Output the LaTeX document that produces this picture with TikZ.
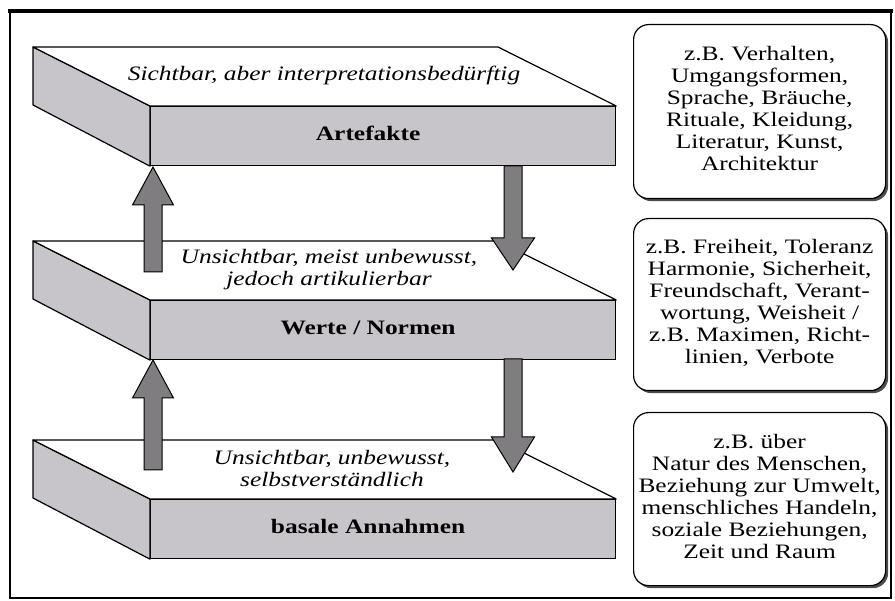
\documentclass[tikz,border=0pt]{standalone}
\usepackage{fontspec}
\setmainfont{Liberation Serif}
\usetikzlibrary{shadows}
\definecolor{slabgray}{RGB}{200,197,202}
\definecolor{arrowgray}{RGB}{128,125,128}
\newcommand{\stretched}[1]{\scalebox{1.24}[1]{\begin{tabular}{@{}c@{}}#1\end{tabular}}}

\begin{document}
\begin{tikzpicture}[x=1pt, y=-1pt,
            front/.style={draw, fill=slabgray, line width=1.2pt, minimum width=465pt, minimum height=59pt, inner sep=0pt, anchor=north west},
            topface/.style={draw, fill=white, line width=1.2pt, line join=round},
            sideface/.style={draw, fill=slabgray, line width=1.2pt, line join=round},
            layertext/.style={font=\fontsize{20.5}{22}\selectfont\itshape, inner sep=0pt},
            layername/.style={font=\fontsize{20.5}{22}\selectfont\bfseries, inner sep=0pt},
            examplebox/.style={draw, line width=1.2pt, rounded corners=15pt, fill=white, minimum width=252pt, inner sep=2pt, anchor=north west, font=\fontsize{20.5}{22}\selectfont, drop shadow={shadow xshift=2.5pt, shadow yshift=-2.5pt, fill=black!70, opacity=1}},
            blockarrow/.style={draw, fill=arrowgray, line width=1pt}
        ]
        \useasboundingbox (0,0) rectangle (895,601);

        % Frame
        \draw[line width=1.5pt] (10,11) rectangle (891,598);
        \draw[line width=4.5pt] (8,11) -- (893,11);

        % Layer 1
        \node[front] (artefakte) at (150,106) {};
        \draw[sideface] (artefakte.north west) -- ++(-117,-59) -- ++(0,58) -- (artefakte.south west) -- cycle;
        \draw[topface] (artefakte.north west) -- ++(-117,-59) -- ++(465,0) -- (artefakte.north east) -- cycle;
        \node[layername, xshift=-15pt] at (artefakte) {\stretched{Artefakte}};
        \node[layertext] (sichtbar) at (324,76) {\stretched{Sichtbar, aber interpretationsbedürftig}};

        % Layer 2
        \node[front] (werte) at (150,300) {};
        \draw[sideface] (werte.north west) -- ++(-117,-59) -- ++(0,58) -- (werte.south west) -- cycle;
        \draw[topface] (werte.north west) -- ++(-117,-59) -- ++(465,0) -- (werte.north east) -- cycle;
        \node[layername, xshift=-15pt] at (werte) {\stretched{Werte / Normen}};
        \node[layertext] (unsichtbar1) at (329,270) {\stretched{Unsichtbar, meist unbewusst,\\jedoch artikulierbar}};

        % Layer 3
        \node[front] (annahmen) at (150,499) {};
        \draw[sideface] (annahmen.north west) -- ++(-117,-59) -- ++(0,58) -- (annahmen.south west) -- cycle;
        \draw[topface] (annahmen.north west) -- ++(-117,-59) -- ++(465,0) -- (annahmen.north east) -- cycle;
        \node[layername, xshift=-15pt] at (annahmen) {\stretched{basale Annahmen}};
        \node[layertext] (unsichtbar2) at (332,471) {\stretched{Unsichtbar, unbewusst,\\selbstverständlich}};

        % Block arrows
        \draw[blockarrow] (144,272) -- (144,205) -- (132.5,205) -- (153,167) -- (173.5,205) -- (162,205) -- (162,272) -- cycle;
        \draw[blockarrow] (144,470) -- (144,398) -- (132.5,398) -- (153,360) -- (173.5,398) -- (162,398) -- (162,470) -- cycle;
        \draw[blockarrow] (504,166) -- (504,238) -- (491.5,238) -- (513,270) -- (534.5,238) -- (522,238) -- (522,166) -- cycle;
        \draw[blockarrow] (504,359) -- (504,437) -- (491.5,437) -- (513,472) -- (534.5,437) -- (522,437) -- (522,359) -- cycle;

        % Examples
        \node[examplebox, minimum height=174pt] (bsp1) at (633,24) {\stretched{z.B. Verhalten,\\Umgangsformen,\\Sprache, Bräuche,\\Rituale, Kleidung,\\Literatur, Kunst,\\Architektur}};
        \node[examplebox, minimum height=172pt] (bsp2) at (633,218) {\stretched{z.B. Freiheit, Toleranz\\Harmonie, Sicherheit,\\Freundschaft, Verant-\\wortung, Weisheit /\\z.B. Maximen, Richt-\\linien, Verbote}};
        \node[examplebox, minimum height=173pt] (bsp3) at (633,412) {\stretched{z.B. über\\Natur des Menschen,\\Beziehung zur Umwelt,\\menschliches Handeln,\\soziale Beziehungen,\\Zeit und Raum}};

    \end{tikzpicture}
\end{document}
